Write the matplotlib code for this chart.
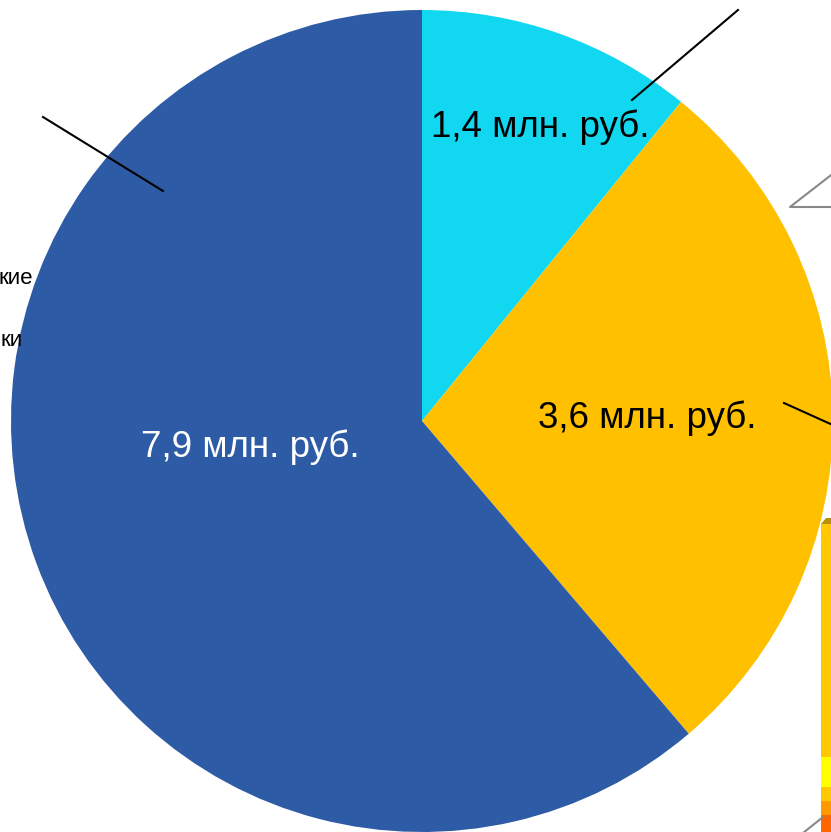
import matplotlib.pyplot as plt
import matplotlib.patches as mpatches

plt.rcParams['font.family'] = ['Liberation Sans', 'DejaVu Sans']

# данные
values = [1.4, 3.6, 7.9]
labels = ["1,4 млн. руб.", "3,6 млн. руб.", "7,9 млн. руб."]
colors = ["#12D7F0", "#FFC000", "#2E5BA5"]
label_colors = ["black", "black", "white"]
label_pos = [(540, 127), (647, 418), (250, 447)]

# обрезанные подписи слева
side_texts = ["кие", "ки"]
side_pos = [(33, 279), (23, 341)]

# полоска справа внизу (кусок соседнего графика)
strip_edges = [524, 757, 787, 801, 815, 832]
strip_colors = ["#FFC800", "#FFFF00", "#FFC800", "#FF9900", "#FF6600"]

W, H = 831, 832
fig = plt.figure(figsize=(W / 100, H / 100), dpi=100)
ax = fig.add_axes([0, 0, 1, 1])

cx, cy, r = 422, 421, 411

# ось y перевёрнута, поэтому counterclock=True рисует по часовой стрелке
wedges, _ = ax.pie(values, colors=colors, startangle=-90, counterclock=True,
                   center=(cx, cy), radius=r, frame=True,
                   wedgeprops=dict(linewidth=0))
ax.set_xlim(0, W)
ax.set_ylim(H, 0)
ax.set_aspect("auto")
ax.axis("off")

for (x, y), t, c in zip(label_pos, labels, label_colors):
    ax.text(x, y, t, fontsize=26.5, color=c, ha="center", va="center")

for (x, y), t in zip(side_pos, side_texts):
    ax.text(x, y, t, fontsize=16, color="black", ha="right", va="center")

# выноски
ax.plot([632, 738], [100, 10], color="black", lw=1.5)
ax.plot([43, 163], [117, 191], color="black", lw=1.5)
ax.plot([784, 835], [403, 426], color="black", lw=1.5)
ax.plot([835, 790, 835], [172, 207, 207], color="#888888", lw=1.5)
ax.plot([803, 823], [833, 817], color="#888888", lw=1.5)

for i, c in enumerate(strip_colors):
    ax.add_patch(mpatches.Rectangle((821, strip_edges[i]), 12,
                                    strip_edges[i + 1] - strip_edges[i],
                                    color=c, lw=0))
ax.add_patch(mpatches.Polygon([(821, 524), (826, 518), (833, 518), (833, 524)],
                              closed=True, color="#B8900A", lw=0))

fig.savefig("out.png", dpi=100)
